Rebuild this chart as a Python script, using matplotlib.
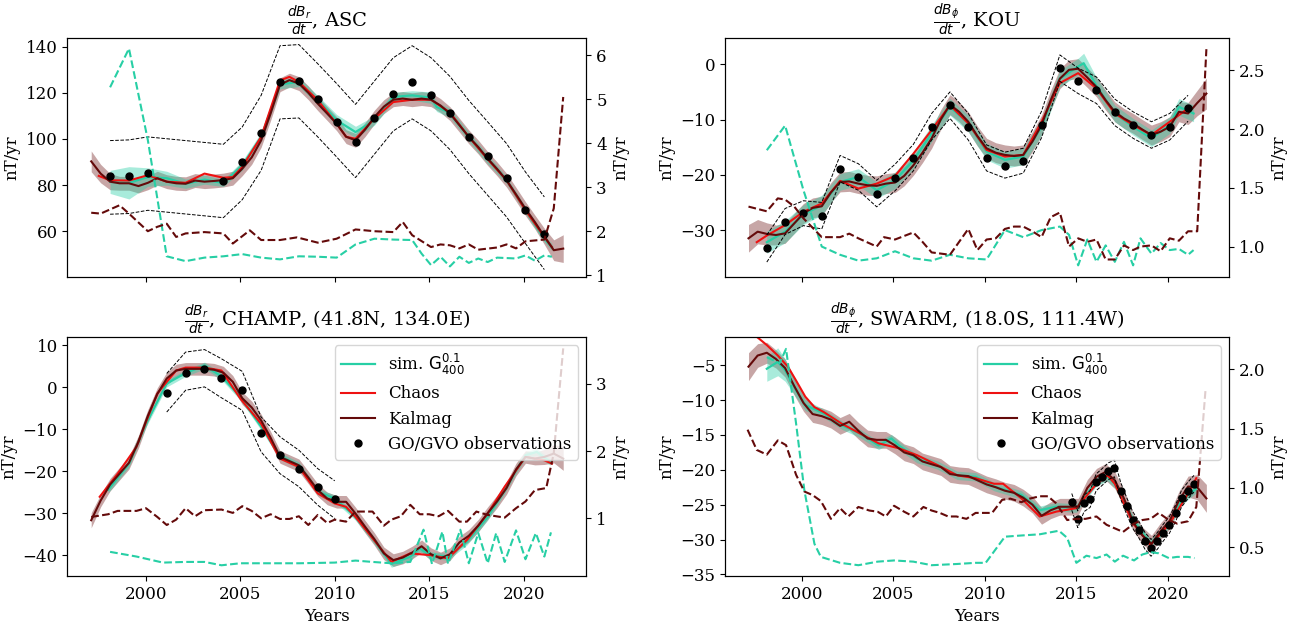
import matplotlib
matplotlib.use('Agg')
import matplotlib.pyplot as plt
from matplotlib.lines import Line2D

plt.rcParams['font.family'] = 'serif'
plt.rcParams['font.serif'] = ['DejaVu Serif']
plt.rcParams['mathtext.fontset'] = 'dejavusans'
plt.rcParams['font.size'] = 12

# ---------------------------------------------------------------- common time grid of Kalmag
kal_years = [1997.1, 1997.6, 1998.1, 1998.6, 1999.1, 1999.6, 2000.1, 2000.6, 2001.1, 2001.6,
             2002.1, 2002.6, 2003.1, 2003.6, 2004.1, 2004.6, 2005.1, 2005.6, 2006.1, 2006.6,
             2007.1, 2007.6, 2008.1, 2008.6, 2009.1, 2009.6, 2010.1, 2010.6, 2011.1, 2011.6,
             2012.1, 2012.6, 2013.1, 2013.6, 2014.1, 2014.6, 2015.1, 2015.6, 2016.1, 2016.6,
             2017.1, 2017.6, 2018.1, 2018.6, 2019.1, 2019.6, 2020.1, 2020.6, 2021.1, 2021.6,
             2022.1]

# ================================================================ ASC (dBr/dt)
asc_kal = [90.3, 85.0, 81.5, 80.8, 80.8, 79.6, 81.0, 83.0, 81.5, 80.8,
           80.6, 82.0, 81.5, 81.8, 82.2, 83.0, 87.1, 92.0, 99.4, 111.0,
           123.5, 125.5, 124.0, 120.0, 115.3, 111.0, 106.6, 101.0, 99.4, 104.0,
           109.5, 114.0, 117.0, 117.5, 117.0, 117.5, 117.0, 114.5, 111.0, 106.0,
           100.9, 96.5, 91.5, 87.0, 82.1, 76.0, 69.8, 64.0, 57.8, 51.8,
           52.5]
asc_kal_band = [4.5, 4.0, 3.5, 3.0, 3.0, 3.0, 3.0, 3.0, 3.0, 3.0,
                3.0, 3.0, 3.0, 3.0, 3.0, 3.0, 3.0, 3.0, 3.0, 3.0,
                3.0, 3.0, 3.0, 3.0, 3.0, 3.0, 3.0, 3.0, 3.0, 3.0,
                3.0, 3.0, 3.0, 3.0, 3.0, 3.0, 3.0, 3.0, 3.0, 3.0,
                3.0, 3.0, 3.0, 3.0, 3.0, 3.0, 3.0, 3.0, 3.5, 4.5,
                6.0]
asc_sim_t = [1998.1, 1999.1, 2000.1, 2001.1, 2002.1, 2003.1, 2004.1, 2005.1, 2006.1, 2007.1,
             2008.1, 2009.1, 2010.1, 2011.1, 2012.1, 2013.1, 2014.1, 2015.1, 2015.4, 2016.1,
             2017.1, 2018.1, 2019.1, 2020.1, 2021.1, 2021.5]
asc_sim = [81.4, 81.0, 83.5, 83.0, 80.6, 82.4, 80.9, 88.5, 100.9, 123.7,
           124.7, 116.8, 108.1, 103.0, 108.0, 118.2, 118.9, 117.9, 113.9, 111.3,
           100.9, 91.2, 82.1, 69.1, 56.8, 53.2]
asc_sim_band = [5.0, 7.0, 4.0, 3.0, 2.0, 2.0, 1.5, 2.0, 2.0, 2.0,
                2.0, 2.0, 2.5, 2.5, 2.0, 2.0, 2.0, 2.5, 2.0, 2.0,
                2.0, 2.0, 1.5, 1.5, 1.5, 1.5]
asc_chaos_t = [1997.5, 1998.1, 1999.1, 2000.1, 2001.1, 2002.1, 2003.1, 2004.1, 2004.6, 2005.1,
               2006.1, 2007.1, 2007.6, 2008.1, 2009.1, 2010.1, 2010.6, 2011.1, 2012.1, 2013.1,
               2014.1, 2015.1, 2016.1, 2017.1, 2018.1, 2019.1, 2020.1, 2021.1, 2021.5]
asc_chaos = [84.0, 82.1, 82.0, 84.3, 81.5, 81.0, 85.0, 83.2, 83.5, 87.9,
             100.9, 125.4, 126.9, 124.7, 116.8, 106.6, 100.9, 100.1, 108.8, 116.0,
             117.0, 117.0, 111.5, 100.9, 91.2, 82.1, 69.1, 57.5, 53.2]
asc_obs_t = [1998.1, 1999.1, 2000.1, 2004.1, 2005.1, 2006.1, 2007.1, 2008.1, 2009.1, 2010.1,
             2011.1, 2012.1, 2013.1, 2014.1, 2015.1, 2016.1, 2017.1, 2018.1, 2019.1, 2020.1,
             2021.1]
asc_obs = [83.8, 83.8, 85.1, 81.7, 90.0, 102.6, 124.7, 125.1, 117.3, 107.5,
           98.8, 109.1, 119.5, 124.5, 119.2, 111.3, 100.9, 92.5, 83.0, 69.4,
           59.0]
asc_obs_hi = [99.3, 99.6, 100.9, 97.7, 105.2, 118.9, 140.4, 140.9, 132.6, 124.0,
              115.0, 125.1, 135.2, 140.4, 135.2, 127.1, 116.7, 107.4, 98.0, 85.7,
              74.9]
asc_obs_lo = [67.4, 67.7, 69.1, 65.9, 73.7, 86.4, 108.7, 109.1, 100.9, 92.2,
              83.3, 93.4, 103.5, 108.7, 103.5, 95.4, 85.0, 75.6, 66.2, 54.7,
              43.4]
asc_kstd_t = [1997.1, 1997.6, 1998.6, 1999.1, 2000.1, 2000.6, 2001.1, 2001.6, 2002.1, 2003.1,
              2004.1, 2004.6, 2005.5, 2006.1, 2007.1, 2008.0, 2009.1, 2010.1, 2011.1, 2012.1,
              2013.1, 2013.6, 2014.1, 2015.1, 2015.6, 2016.1, 2016.6, 2017.1, 2017.6, 2018.6,
              2019.1, 2019.6, 2020.1, 2021.1, 2021.6, 2022.1]
asc_kstd = [2.42, 2.40, 2.59, 2.40, 2.00, 2.10, 2.17, 1.87, 1.95, 1.98,
            1.95, 1.72, 2.02, 1.80, 1.80, 1.86, 1.74, 1.83, 2.04, 2.00,
            1.98, 2.21, 1.91, 1.64, 1.70, 1.68, 1.61, 1.70, 1.58, 1.63,
            1.70, 1.61, 1.77, 1.81, 2.52, 5.05]
asc_sstd_t = [1998.1, 1999.1, 2000.1, 2001.1, 2002.1, 2003.1, 2004.1, 2005.1, 2006.1, 2007.1,
              2008.1, 2009.1, 2010.1, 2011.1, 2012.1, 2013.1, 2014.1, 2014.6, 2015.1, 2015.6,
              2016.1, 2016.6, 2017.1, 2017.6, 2018.1, 2018.6, 2019.6, 2020.1, 2020.6, 2021.1,
              2021.5]
asc_sstd = [5.27, 6.15, 4.07, 1.43, 1.32, 1.40, 1.43, 1.48, 1.40, 1.36,
            1.43, 1.42, 1.40, 1.70, 1.83, 1.81, 1.80, 1.49, 1.23, 1.42,
            1.20, 1.42, 1.28, 1.38, 1.30, 1.40, 1.38, 1.45, 1.33, 1.45,
            1.42]

# ================================================================ KOU (dBphi/dt)
kou_kal = [-31.5, -30.3, -30.7, -30.9, -30.6, -28.8, -27.0, -26.0, -25.7, -23.2,
           -21.3, -21.2, -21.6, -21.9, -22.0, -21.6, -21.4, -20.2, -18.3, -16.0,
           -13.4, -10.0, -7.3, -8.6, -10.4, -13.0, -15.2, -16.0, -16.4, -16.6,
           -16.4, -14.0, -11.0, -6.5, -2.6, -1.0, -0.8, -2.4, -4.1, -6.5,
           -8.6, -9.8, -10.7, -11.8, -12.8, -12.2, -11.3, -8.6, -8.9, -7.0,
           -5.3]
kou_kal_band = [2.5, 2.2, 2.0, 1.8, 1.8, 1.8, 1.8, 1.8, 1.8, 1.8,
                1.8, 1.8, 1.8, 1.8, 1.8, 1.8, 1.8, 1.8, 1.8, 1.8,
                1.8, 1.8, 1.8, 1.8, 1.8, 1.8, 1.8, 1.8, 1.8, 1.8,
                1.8, 1.8, 1.8, 1.8, 1.8, 1.8, 1.8, 1.8, 1.8, 1.8,
                1.8, 1.8, 1.8, 1.8, 1.8, 1.8, 1.8, 1.8, 2.0, 2.3,
                2.8]
kou_sim_t = [1998.1, 1999.1, 2000.1, 2001.1, 2002.1, 2003.1, 2004.1, 2005.1, 2006.1, 2007.1,
             2008.1, 2009.1, 2010.1, 2011.1, 2012.1, 2013.1, 2014.1, 2015.1, 2015.4, 2016.1,
             2017.1, 2018.1, 2019.1, 2020.1, 2020.6, 2021.4]
kou_sim = [-32.2, -30.3, -27.2, -25.5, -21.3, -20.4, -22.8, -21.0, -17.4, -12.5,
           -7.7, -10.7, -15.8, -17.3, -16.7, -11.3, -2.6, -0.4, 0.2, -3.9,
           -8.9, -11.3, -13.4, -11.0, -7.7, -8.9]
kou_sim_band = [2.0, 2.0, 1.8, 1.8, 1.5, 1.5, 1.5, 1.5, 1.5, 1.5,
                1.5, 1.5, 1.5, 1.5, 1.5, 1.5, 1.5, 1.5, 1.8, 1.5,
                1.5, 1.5, 1.5, 1.5, 1.5, 1.5]
kou_chaos_t = [1997.55, 1998.1, 1999.1, 2000.1, 2001.1, 2002.1, 2003.1, 2004.1, 2005.1, 2006.1,
               2007.1, 2008.1, 2009.1, 2010.1, 2011.1, 2012.1, 2013.1, 2014.1, 2015.1, 2016.1,
               2017.1, 2018.1, 2019.1, 2020.1, 2021.1]
kou_chaos = [-32.2, -31.0, -29.1, -26.7, -25.2, -21.1, -22.5, -21.6, -20.2, -16.2,
             -11.9, -7.4, -10.7, -15.5, -16.7, -16.4, -10.4, -3.4, -1.6, -4.4,
             -8.9, -11.0, -12.8, -10.4, -8.0]
kou_obs_t = [1998.1, 1999.1, 2000.1, 2001.1, 2002.1, 2003.1, 2004.1, 2005.1, 2006.1, 2007.1,
             2008.1, 2009.1, 2010.1, 2011.1, 2012.1, 2013.1, 2014.1, 2015.1, 2016.1, 2017.1,
             2018.1, 2019.1, 2020.1, 2021.1]
kou_obs = [-33.3, -28.5, -27.0, -27.4, -18.9, -20.4, -23.4, -20.5, -16.9, -11.3,
           -7.4, -11.3, -17.0, -18.4, -17.5, -10.9, -0.6, -3.0, -4.7, -8.7,
           -11.0, -12.8, -11.3, -7.9]
kou_obs_hi = [-30.9, -26.1, -24.7, -25.0, -16.5, -18.0, -21.0, -18.1, -14.5, -8.9,
              -5.0, -8.9, -14.6, -15.9, -15.2, -8.5, 1.7, -0.7, -2.3, -6.3,
              -8.6, -10.4, -8.9, -5.6]
kou_obs_lo = [-35.8, -30.8, -29.2, -29.8, -21.3, -22.8, -25.8, -22.9, -19.3, -13.7,
              -9.8, -13.7, -19.3, -20.6, -19.7, -13.3, -3.1, -5.3, -7.1, -11.1,
              -13.4, -15.2, -13.7, -10.3]
kou_kstd_t = [1997.1, 1998.1, 1998.7, 1999.1, 1999.6, 2000.1, 2001.1, 2002.1, 2002.6, 2003.1,
              2004.1, 2004.5, 2005.1, 2006.1, 2006.6, 2007.1, 2008.1, 2009.1, 2009.6, 2010.1,
              2010.6, 2011.1, 2011.6, 2012.1, 2012.6, 2013.1, 2013.6, 2014.1, 2014.6, 2015.1,
              2015.6, 2016.1, 2016.6, 2017.1, 2017.6, 2018.1, 2018.5, 2019.1, 2019.6, 2020.1,
              2020.6, 2021.1, 2021.6, 2022.1]
kou_kstd = [1.34, 1.30, 1.41, 1.40, 1.34, 1.24, 1.08, 1.08, 1.11, 1.07,
            1.00, 1.08, 1.06, 1.12, 1.04, 0.95, 0.93, 1.15, 0.97, 1.06,
            1.07, 1.15, 1.17, 1.17, 1.13, 1.08, 1.25, 1.29, 1.00, 1.07,
            1.04, 1.06, 0.89, 0.89, 1.01, 0.97, 1.00, 1.01, 0.96, 1.07,
            1.05, 1.13, 1.13, 2.68]
kou_sstd_t = [1998.1, 1999.1, 2000.1, 2001.1, 2002.1, 2003.1, 2004.1, 2005.1, 2006.1, 2007.1,
              2008.1, 2009.1, 2010.1, 2011.1, 2012.1, 2013.1, 2014.1, 2014.6, 2015.1, 2015.6,
              2016.1, 2016.6, 2017.1, 2017.6, 2018.1, 2018.5, 2019.1, 2019.6, 2020.1, 2020.6,
              2021.1, 2021.4]
kou_sstd = [1.82, 2.03, 1.48, 1.00, 0.93, 0.88, 0.90, 0.96, 0.90, 0.88,
            0.93, 0.90, 0.89, 1.14, 1.08, 1.14, 1.17, 1.10, 0.84, 1.06,
            0.87, 1.01, 0.87, 1.04, 0.84, 1.07, 0.94, 1.03, 0.97, 0.98,
            0.93, 0.97]

# ================================================================ CHAMP (dBr/dt)
champ_kal = [-31.7, -27.0, -23.2, -20.6, -18.0, -13.0, -6.8, -1.6, 2.1, 4.0,
             4.4, 4.4, 4.4, 4.2, 3.5, 1.3, -2.6, -4.8, -7.9, -12.0,
             -16.6, -17.6, -18.6, -21.5, -24.5, -26.5, -27.3, -27.3, -30.1, -33.2,
             -36.2, -39.6, -41.2, -40.6, -39.4, -37.9, -39.8, -40.8, -39.8, -37.0,
             -35.4, -33.0, -30.0, -27.2, -24.0, -19.6, -16.6, -17.0, -16.6, -15.8,
             -17.0]
champ_kal_band = [1.8, 1.5, 1.5, 1.5, 1.5, 1.5, 1.5, 1.5, 1.5, 1.5,
                  1.5, 1.5, 1.5, 1.5, 1.5, 1.5, 1.5, 1.5, 1.5, 1.5,
                  1.5, 1.5, 1.5, 1.5, 1.5, 1.5, 1.5, 1.5, 1.5, 1.5,
                  1.5, 1.5, 1.5, 1.5, 1.5, 1.5, 1.5, 1.5, 1.5, 1.5,
                  1.5, 1.5, 1.5, 1.5, 1.5, 1.5, 1.5, 1.5, 1.8, 2.2,
                  2.8]
champ_sim_t = [1998.0, 1999.1, 2000.0, 2001.1, 2002.1, 2003.1, 2004.0, 2005.0, 2006.1, 2007.1,
               2008.1, 2009.1, 2010.0, 2011.1, 2012.0, 2013.0, 2014.0, 2014.5, 2015.0, 2016.0,
               2017.0, 2018.1, 2019.0, 2019.6, 2020.1, 2020.7, 2021.4]
champ_sim = [-24.4, -18.2, -8.7, 0.9, 3.4, 5.2, 2.6, -2.3, -9.4, -16.4,
             -18.6, -24.9, -26.5, -30.9, -36.0, -42.1, -40.4, -38.4, -40.0, -40.4,
             -36.8, -30.9, -24.5, -19.8, -16.2, -15.4, -17.8]
champ_sim_band = [0.8, 0.8, 0.8, 0.8, 0.8, 0.8, 0.8, 0.8, 0.8, 0.8,
                  0.8, 0.8, 0.8, 0.8, 0.8, 0.8, 0.8, 0.8, 0.8, 0.8,
                  0.8, 0.8, 0.8, 0.8, 0.8, 0.8, 0.8]
champ_chaos_t = [1997.55, 1998.5, 1999.5, 2000.0, 2000.6, 2001.1, 2001.6, 2002.1, 2003.1, 2004.0,
                 2005.0, 2006.1, 2007.1, 2008.1, 2009.1, 2010.0, 2010.6, 2011.1, 2012.0, 2013.0,
                 2014.0, 2015.0, 2016.0, 2017.0, 2018.1, 2019.0, 2020.1, 2021.1, 2021.5]
champ_chaos = [-26.1, -20.6, -14.2, -8.3, -1.5, 1.3, 4.0, 4.7, 4.7, 4.0,
               -2.7, -8.7, -17.0, -19.0, -25.3, -27.7, -28.5, -30.9, -36.0, -41.6,
               -39.6, -40.0, -40.8, -36.4, -30.1, -23.7, -16.6, -17.4, -18.2]
champ_obs_t = [2001.1, 2002.1, 2003.1, 2004.0, 2005.1, 2006.1, 2007.1, 2008.1, 2009.1, 2010.0]
champ_obs = [-1.4, 3.5, 4.4, 2.1, -0.7, -11.0, -16.2, -19.5, -23.7, -26.7]
champ_obs_hi = [3.3, 8.4, 9.0, 6.8, 3.8, -7.1, -11.8, -15.0, -19.4, -22.3]
champ_obs_lo = [-5.9, -0.7, 0.1, -2.5, -5.5, -15.4, -20.6, -23.7, -28.1, -31.3]
champ_kstd_t = [1997.1, 1998.0, 1998.5, 1999.5, 2000.0, 2000.6, 2001.1, 2001.6, 2002.1, 2002.6,
                2003.1, 2004.0, 2004.6, 2005.1, 2005.6, 2006.1, 2006.6, 2007.1, 2007.6, 2008.1,
                2008.6, 2009.1, 2009.6, 2010.0, 2010.6, 2011.1, 2012.0, 2012.6, 2013.0, 2013.5,
                2014.0, 2014.5, 2015.0, 2015.5, 2016.0, 2016.6, 2017.0, 2017.5, 2018.1, 2019.0,
                2019.6, 2020.1, 2020.6, 2021.2, 2021.6, 2022.1]
champ_kstd = [1.02, 1.06, 1.11, 1.11, 1.15, 1.02, 0.90, 0.98, 1.15, 1.03,
              1.12, 1.13, 1.08, 1.18, 1.11, 1.00, 1.06, 0.99, 0.99, 1.03,
              0.90, 1.05, 0.93, 0.98, 0.95, 1.10, 1.10, 0.89, 0.98, 1.03,
              1.20, 1.06, 1.06, 1.03, 1.11, 0.95, 0.95, 1.10, 1.05, 1.01,
              1.15, 1.25, 1.42, 1.45, 1.97, 3.53]
champ_sstd_t = [1998.1, 1999.5, 2000.9, 2002.1, 2003.1, 2004.0, 2005.0, 2006.1, 2008.1, 2010.0,
                2011.1, 2012.0, 2013.0, 2014.0, 2014.7, 2015.15, 2015.7, 2016.0, 2016.65, 2017.1,
                2017.6, 2018.1, 2018.55, 2019.0, 2019.6, 2020.1, 2020.65, 2021.1, 2021.45]
champ_sstd = [0.50, 0.43, 0.34, 0.35, 0.35, 0.30, 0.33, 0.33, 0.33, 0.34,
              0.37, 0.35, 0.33, 0.35, 0.83, 0.32, 0.80, 0.32, 0.83, 0.33,
              0.78, 0.33, 0.78, 0.35, 0.82, 0.39, 0.78, 0.43, 0.79]

# ================================================================ SWARM (dBphi/dt)
swarm_kal = [-5.2, -3.6, -3.2, -4.1, -5.4, -8.0, -10.4, -12.0, -12.3, -12.8,
             -13.7, -13.1, -14.4, -15.5, -15.7, -15.7, -16.5, -17.5, -17.9, -18.8,
             -19.2, -19.6, -20.6, -20.8, -20.9, -21.5, -22.1, -22.5, -23.0, -23.3,
             -24.0, -25.0, -26.6, -25.8, -25.3, -25.3, -25.3, -22.6, -21.0, -20.3,
             -21.5, -24.1, -27.5, -29.4, -30.6, -28.8, -27.3, -24.4, -22.4, -22.5,
             -24.1]
swarm_kal_band = [2.0, 1.7, 1.5, 1.3, 1.3, 1.3, 1.2, 1.2, 1.2, 1.2,
                  1.2, 1.2, 1.2, 1.2, 1.2, 1.2, 1.2, 1.2, 1.2, 1.2,
                  1.2, 1.2, 1.2, 1.2, 1.2, 1.2, 1.2, 1.2, 1.2, 1.2,
                  1.2, 1.2, 1.2, 1.2, 1.2, 1.2, 1.2, 1.2, 1.2, 1.2,
                  1.2, 1.2, 1.2, 1.2, 1.2, 1.2, 1.2, 1.3, 1.5, 1.8,
                  2.0]
swarm_sim_t = [1998.1, 1998.7, 1999.1, 1999.7, 2000.2, 2001.2, 2002.2, 2003.2, 2004.2, 2004.9,
               2005.3, 2006.3, 2007.4, 2008.5, 2009.5, 2010.5, 2012.0, 2013.0, 2013.9, 2015.0,
               2016.1, 2016.7, 2017.1, 2018.1, 2019.05, 2020.1, 2020.75, 2021.55]
swarm_sim = [-5.5, -4.5, -5.7, -8.6, -10.7, -11.9, -13.6, -14.8, -16.5, -15.5,
             -16.5, -18.4, -19.3, -20.8, -21.0, -22.4, -23.6, -25.8, -25.3, -25.5,
             -21.7, -21.0, -22.0, -27.2, -30.6, -27.7, -24.4, -22.7]
swarm_sim_band = [1.8, 2.0, 1.6, 1.0, 0.8, 0.6, 0.6, 0.6, 0.6, 0.6,
                  0.6, 0.6, 0.6, 0.6, 0.6, 0.6, 0.6, 0.6, 0.6, 0.6,
                  0.6, 0.6, 0.6, 0.6, 0.6, 0.6, 0.6, 0.6]
swarm_chaos_t = [1997.5, 1998.1, 1998.7, 1999.25, 1999.7, 2000.2, 2000.7, 2001.2, 2002.2, 2003.2,
                 2004.2, 2005.3, 2006.3, 2007.4, 2008.5, 2009.5, 2010.5, 2011.0, 2012.0, 2013.0,
                 2013.9, 2015.0, 2016.1, 2016.7, 2017.1, 2018.1, 2019.05, 2020.1, 2021.1, 2021.55]
swarm_chaos = [-0.8, -2.1, -3.6, -5.2, -7.2, -9.5, -11.0, -11.7, -13.4, -14.8,
               -16.2, -16.9, -17.9, -19.3, -20.8, -21.2, -22.0, -22.0, -24.1, -26.7,
               -26.0, -25.5, -22.0, -20.8, -22.0, -27.7, -30.8, -27.7, -23.4, -21.2]
swarm_obs_t = [2014.75, 2015.08, 2015.42, 2015.75, 2016.08, 2016.42, 2016.75, 2017.08, 2017.42, 2017.75,
               2018.08, 2018.42, 2018.75, 2019.08, 2019.42, 2019.75, 2020.08, 2020.42, 2020.75, 2021.08,
               2021.42]
swarm_obs = [-24.6, -27.1, -24.8, -24.2, -21.8, -21.0, -20.2, -19.8, -23.0, -25.2,
             -27.2, -28.6, -30.2, -31.2, -30.2, -29.0, -27.9, -26.2, -24.1, -23.0,
             -22.0]
swarm_obs_hi = [-23.4, -25.9, -23.6, -23.0, -20.6, -19.8, -19.0, -18.6, -21.8, -24.0,
                -26.0, -27.4, -29.0, -30.0, -29.0, -27.8, -26.7, -25.0, -22.9, -21.8,
                -20.8]
swarm_obs_lo = [-25.8, -28.3, -26.0, -25.4, -23.0, -22.2, -21.4, -21.0, -24.2, -26.4,
                -28.4, -29.8, -31.4, -32.4, -31.4, -30.2, -29.1, -27.4, -25.3, -24.2,
                -23.2]
swarm_kstd_t = [1997.05, 1997.55, 1998.1, 1998.7, 1999.15, 1999.7, 2000.15, 2000.6, 2001.05, 2001.6,
                2002.1, 2002.55, 2003.1, 2003.7, 2004.15, 2004.6, 2005.05, 2005.6, 2006.1, 2006.65,
                2007.1, 2007.55, 2008.0, 2008.45, 2009.0, 2009.5, 2009.95, 2010.4, 2010.95, 2011.4,
                2012.0, 2012.45, 2013.0, 2013.45, 2013.9, 2014.5, 2015.0, 2015.5, 2016.1, 2016.65,
                2017.1, 2017.55, 2018.15, 2018.6, 2019.05, 2019.5, 2020.05, 2020.5, 2021.1, 2021.55,
                2022.05]
swarm_kstd = [1.49, 1.32, 1.28, 1.40, 1.36, 1.11, 0.97, 0.94, 0.89, 0.74,
              0.83, 0.76, 0.84, 0.81, 0.80, 0.76, 0.85, 0.80, 0.76, 0.84,
              0.81, 0.79, 0.76, 0.76, 0.74, 0.79, 0.79, 0.79, 0.90, 0.91,
              0.88, 0.91, 0.93, 0.93, 0.87, 0.73, 0.74, 0.74, 0.76, 0.69,
              0.66, 0.63, 0.70, 0.73, 0.74, 0.79, 0.73, 0.70, 0.72, 0.84,
              1.82]
swarm_sstd_t = [1998.1, 1998.8, 1999.15, 1999.7, 2000.15, 2000.7, 2001.05, 2002.1, 2003.1, 2004.15,
                2005.05, 2006.1, 2007.1, 2008.45, 2009.5, 2010.05, 2011.1, 2012.0, 2013.0, 2014.05,
                2014.5, 2015.0, 2015.55, 2016.1, 2016.65, 2017.1, 2017.55, 2018.15, 2018.6, 2019.05,
                2019.5, 2020.05, 2020.5, 2021.1, 2021.45]
swarm_sstd = [2.10, 2.05, 2.17, 1.54, 0.98, 0.53, 0.42, 0.37, 0.35, 0.38,
              0.39, 0.38, 0.35, 0.36, 0.37, 0.37, 0.59, 0.60, 0.61, 0.64,
              0.58, 0.37, 0.43, 0.41, 0.44, 0.38, 0.43, 0.39, 0.44, 0.46,
              0.45, 0.41, 0.42, 0.42, 0.41]

titles = [r'$\frac{dB_r}{dt}$, ASC', r'$\frac{dB_\phi}{dt}$, KOU',
          r'$\frac{dB_r}{dt}$, CHAMP, (41.8N, 134.0E)',
          r'$\frac{dB_\phi}{dt}$, SWARM, (18.0S, 111.4W)']
legend_labels = [r'sim. $\mathrm{G}^{0.1}_{400}$', 'Chaos', 'Kalmag', 'GO/GVO observations']
year_ticks = [2000, 2005, 2010, 2015, 2020]

# ---------------------------------------------------------------- styling
C_SIM = '#27cfa5'
C_CHAOS = '#ee1111'
C_KAL = '#640a0a'

fig = plt.figure(figsize=(12.94, 6.23), dpi=100)

panels = [
    dict(pos=[0.0521, 0.5554, 0.4011, 0.3836], ylim=(40.2, 143.75), rlim=(0.96, 6.39),
         kal=asc_kal, kb=asc_kal_band, st=asc_sim_t, s=asc_sim, sb=asc_sim_band,
         ct=asc_chaos_t, c=asc_chaos, ot=asc_obs_t, o=asc_obs, oh=asc_obs_hi, ol=asc_obs_lo,
         kst=asc_kstd_t, ks=asc_kstd, sst=asc_sstd_t, ss=asc_sstd, bottom=False, legend=False),
    dict(pos=[0.5606, 0.5554, 0.3891, 0.3836], ylim=(-38.5, 4.76), rlim=(0.741, 2.775),
         kal=kou_kal, kb=kou_kal_band, st=kou_sim_t, s=kou_sim, sb=kou_sim_band,
         ct=kou_chaos_t, c=kou_chaos, ot=kou_obs_t, o=kou_obs, oh=kou_obs_hi, ol=kou_obs_lo,
         kst=kou_kstd_t, ks=kou_kstd, sst=kou_sstd_t, ss=kou_sstd, bottom=False, legend=False),
    dict(pos=[0.0521, 0.0754, 0.4011, 0.3837], ylim=(-45.0, 12.0), rlim=(0.14, 3.70),
         kal=champ_kal, kb=champ_kal_band, st=champ_sim_t, s=champ_sim, sb=champ_sim_band,
         ct=champ_chaos_t, c=champ_chaos, ot=champ_obs_t, o=champ_obs, oh=champ_obs_hi, ol=champ_obs_lo,
         kst=champ_kstd_t, ks=champ_kstd, sst=champ_sstd_t, ss=champ_sstd, bottom=True, legend=True),
    dict(pos=[0.5606, 0.0754, 0.3891, 0.3837], ylim=(-35.24, -0.94), rlim=(0.259, 2.27),
         kal=swarm_kal, kb=swarm_kal_band, st=swarm_sim_t, s=swarm_sim, sb=swarm_sim_band,
         ct=swarm_chaos_t, c=swarm_chaos, ot=swarm_obs_t, o=swarm_obs, oh=swarm_obs_hi, ol=swarm_obs_lo,
         kst=swarm_kstd_t, ks=swarm_kstd, sst=swarm_sstd_t, ss=swarm_sstd, bottom=True, legend=True),
]

for p, title in zip(panels, titles):
    ax = fig.add_axes(p['pos'])
    kal_lo = [v - b for v, b in zip(p['kal'], p['kb'])]
    kal_hi = [v + b for v, b in zip(p['kal'], p['kb'])]
    sim_lo = [v - b for v, b in zip(p['s'], p['sb'])]
    sim_hi = [v + b for v, b in zip(p['s'], p['sb'])]
    ax.fill_between(kal_years, kal_lo, kal_hi, color=C_KAL, alpha=0.36, lw=0)
    ax.fill_between(p['st'], sim_lo, sim_hi, color=C_SIM, alpha=0.4, lw=0)
    ax.plot(p['st'], p['s'], color=C_SIM, lw=1.6)
    ax.plot(p['ct'], p['c'], color=C_CHAOS, lw=1.5)
    ax.plot(kal_years, p['kal'], color=C_KAL, lw=1.5)
    ax.plot(p['ot'], p['oh'], color='black', ls='--', lw=0.7)
    ax.plot(p['ot'], p['ol'], color='black', ls='--', lw=0.7)
    ax.plot(p['ot'], p['o'], 'o', color='black', ms=5, zorder=5)
    ax.set_xlim(1995.84, 2023.33)
    ax.set_ylim(*p['ylim'])
    ax.set_xticks(year_ticks)
    ax.set_ylabel('nT/yr')
    ax.set_title(title, fontsize=14)
    if p['bottom']:
        ax.set_xlabel('Years')
    else:
        ax.tick_params(labelbottom=False)

    ax2 = ax.twinx()
    ax2.plot(p['sst'], p['ss'], color=C_SIM, ls='--', lw=1.5)
    ax2.plot(p['kst'], p['ks'], color=C_KAL, ls='--', lw=1.5)
    ax2.set_ylim(*p['rlim'])
    ax2.set_ylabel('nT/yr')

    if p['legend']:
        handles = [Line2D([], [], color=C_SIM, lw=1.6),
                   Line2D([], [], color=C_CHAOS, lw=1.5),
                   Line2D([], [], color=C_KAL, lw=1.5),
                   Line2D([], [], color='black', marker='o', ls='none', ms=5)]
        ax2.legend(handles, legend_labels, loc='upper right', fontsize=12)

fig.savefig('out.png', dpi=100)
